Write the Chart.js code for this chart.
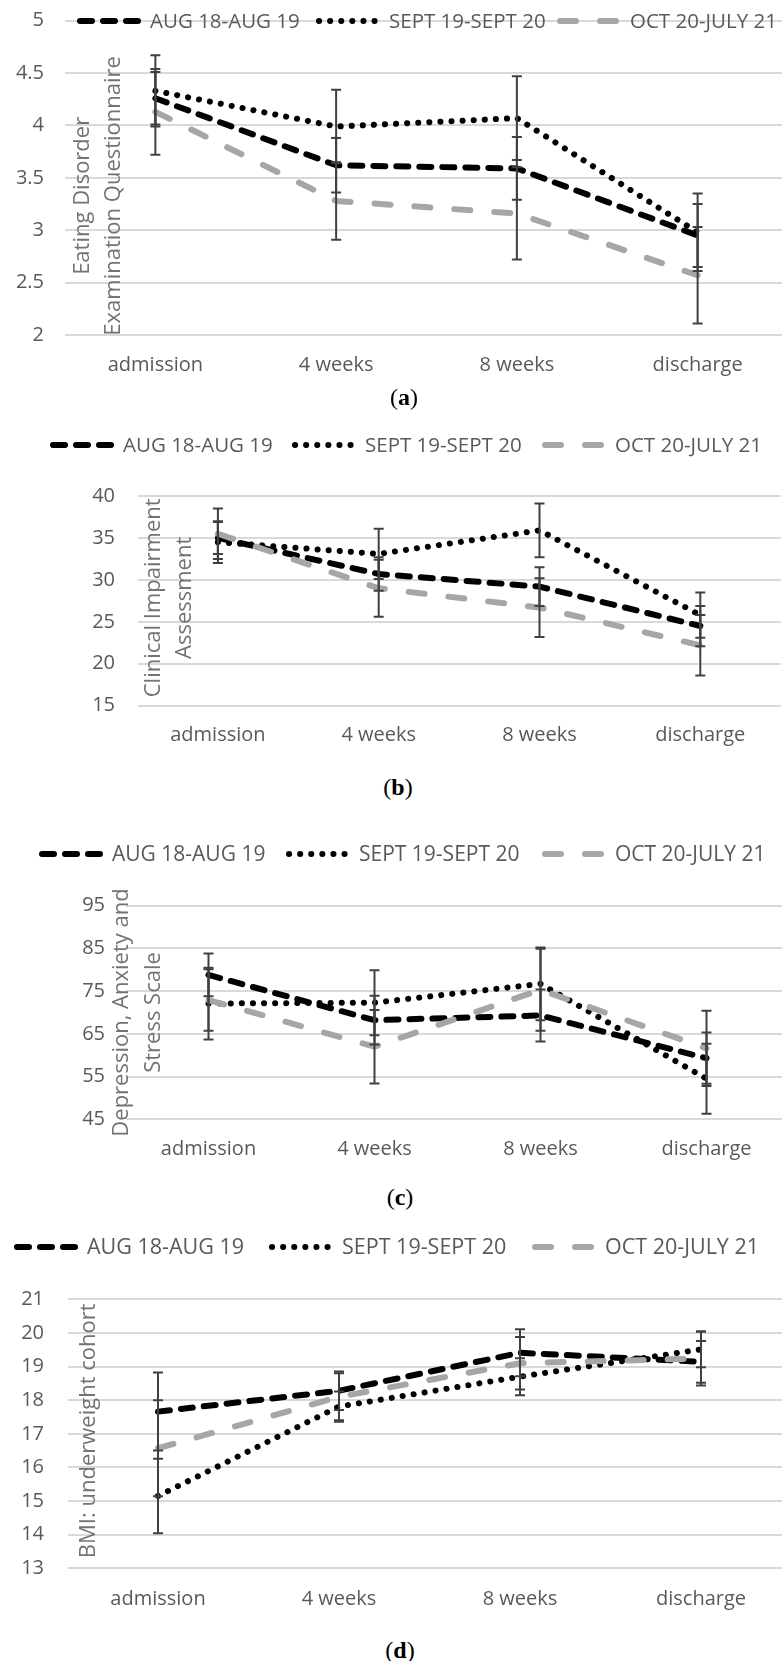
<!DOCTYPE html>
<html>
<head>
<meta charset="utf-8">
<script src="https://cdn.jsdelivr.net/npm/chart.js@4.4.1/dist/chart.umd.min.js"></script>
<style>
  body { margin: 0; background: #fff; }
  #page { position: relative; width: 782px; height: 1661px; overflow: hidden; }
  #page canvas { position: absolute; left: 0; }
  .cap { position: absolute; width: 100px; text-align: center; font: 24px "Liberation Serif", serif; line-height: 24px; color: #000; }
</style>
</head>
<body>
<div id="page">
  <canvas id="chartA" width="800" height="385" style="top:0px"></canvas>
  <div class="cap" style="left:354px;top:385px">(<b>a</b>)</div>
  <canvas id="chartB" width="800" height="340" style="top:420px"></canvas>
  <div class="cap" style="left:348px;top:775px">(<b>b</b>)</div>
  <canvas id="chartC" width="800" height="340" style="top:830px"></canvas>
  <div class="cap" style="left:350px;top:1185px">(<b>c</b>)</div>
  <canvas id="chartD" width="800" height="400" style="top:1225px"></canvas>
  <div class="cap" style="left:350px;top:1638px">(<b>d</b>)</div>
</div>
<script>
const categories = ['admission', '4 weeks', '8 weeks', 'discharge'];
const cohorts = ['AUG 18-AUG 19', 'SEPT 19-SEPT 20', 'OCT 20-JULY 21'];

// (a) Eating Disorder Examination Questionnaire
const edeTicks = [2, 2.5, 3, 3.5, 4, 4.5, 5];
const edeAug = [4.26, 3.62, 3.59, 2.95];
const edeSept = [4.33, 3.99, 4.07, 2.98];
const edeOct = [4.13, 3.28, 3.16, 2.57];
const edeAugErr = [0.25, 0.26, 0.30, 0.30];
const edeSeptErr = [0.34, 0.35, 0.40, 0.37];
const edeOctErr = [0.41, 0.37, 0.44, 0.46];

// (b) Clinical Impairment Assessment
const ciaTicks = [15, 20, 25, 30, 35, 40];
const ciaAug = [35.0, 30.7, 29.2, 24.5];
const ciaSept = [34.5, 33.1, 35.9, 25.8];
const ciaOct = [35.5, 29.0, 26.7, 22.2];
const ciaAugErr = [1.9, 2.0, 2.3, 2.4];
const ciaSeptErr = [2.5, 3.0, 3.2, 2.7];
const ciaOctErr = [3.0, 3.4, 3.5, 3.6];

// (c) Depression, Anxiety and Stress Scale
const dassTicks = [45, 55, 65, 75, 85, 95];
const dassAug = [78.8, 68.2, 69.3, 59.3];
const dassSept = [72.1, 72.3, 76.7, 54.5];
const dassOct = [72.9, 62.0, 75.3, 61.6];
const dassAugErr = [5.0, 5.7, 6.1, 6.0];
const dassSeptErr = [8.4, 7.6, 8.5, 8.2];
const dassOctErr = [7.2, 8.6, 9.6, 8.8];

// (d) BMI, underweight cohort
const bmiTicks = [13, 14, 15, 16, 17, 18, 19, 20, 21];
const bmiAug = [17.66, 18.28, 19.41, 19.14];
const bmiSept = [15.15, 17.81, 18.70, 19.51];
const bmiOct = [16.57, 18.10, 19.10, 19.24];
const bmiAugErr = [1.16, 0.57, 0.70, 0.62];
const bmiSeptErr = [1.11, 0.45, 0.55, 0.53];
const bmiOctErr = [1.43, 0.70, 0.78, 0.80];

const TEXT = '#595959';
const FONT = '"Open Sans", "DejaVu Sans", sans-serif';

// line look per cohort (Excel: long dash black, round dot black, dash grey)
const looks = [
    { color: '#000000', dash: [12, 11], order: 2 },
    { color: '#000000', dash: [0.1, 11], order: 1 },
    { color: '#a6a6a6', dash: [16, 24], order: 0 }
];

const errorBars = {
    id: 'errorBars',
    afterDatasetsDraw(chart) {
        const ctx = chart.ctx, y = chart.scales.y;
        ctx.save();
        ctx.strokeStyle = '#404040';
        ctx.lineWidth = 2;
        ctx.setLineDash([]);
        ctx.lineCap = 'butt';
        chart.data.datasets.forEach((ds, i) => {
            chart.getDatasetMeta(i).data.forEach((pt, j) => {
                const x = pt.x;
                const hi = y.getPixelForValue(ds.data[j] + ds.errors[j]);
                const lo = y.getPixelForValue(ds.data[j] - ds.errors[j]);
                ctx.beginPath();
                ctx.moveTo(x, hi); ctx.lineTo(x, lo);
                ctx.moveTo(x - 5, hi); ctx.lineTo(x + 5, hi);
                ctx.moveTo(x - 5, lo); ctx.lineTo(x + 5, lo);
                ctx.stroke();
            });
        });
        ctx.restore();
    }
};

const sideTitle = {
    id: 'sideTitle',
    beforeDatasetsDraw(chart, args, o) {
        const a = chart.chartArea, ctx = chart.ctx;
        ctx.save();
        ctx.fillStyle = '#737373';
        ctx.font = '22px ' + FONT;
        ctx.textAlign = 'center';
        ctx.textBaseline = 'middle';
        o.lines.forEach((t, k) => {
            ctx.save();
            ctx.translate(a.left + o.dx[k], (a.top + a.bottom) / 2 + o.dy);
            ctx.rotate(-Math.PI / 2);
            ctx.fillText(t, 0, 0);
            ctx.restore();
        });
        ctx.restore();
    }
};

// legend: sample line then label, each item starting at a given x
const lineLegend = {
    id: 'lineLegend',
    afterDraw(chart, args, o) {
        const ctx = chart.ctx;
        ctx.save();
        ctx.font = o.size + 'px ' + FONT;
        ctx.textBaseline = 'middle';
        chart.data.datasets.forEach((ds, i) => {
            const x = o.xs[i];
            ctx.strokeStyle = ds.borderColor;
            ctx.lineWidth = ds.borderWidth;
            ctx.lineCap = 'round';
            ctx.setLineDash(ds.borderDash);
            ctx.beginPath();
            ctx.moveTo(x + 3, o.y);
            ctx.lineTo(x + 61, o.y);
            ctx.stroke();
            ctx.fillStyle = TEXT;
            ctx.fillText(ds.label, x + 73, o.y + 1);
        });
        ctx.restore();
    }
};

function makeChart(id, ticks, series, errs, p) {
    const canvas = document.getElementById(id);
    const datasets = series.map((vals, i) => ({
        label: cohorts[i],
        data: vals,
        errors: errs[i],
        borderColor: looks[i].color,
        borderDash: looks[i].dash,
        borderWidth: 6,
        borderCapStyle: 'round',
        borderJoinStyle: 'round',
        pointRadius: 0,
        tension: 0,
        fill: false,
        order: looks[i].order
    }));
    return new Chart(canvas, {
        type: 'line',
        data: { labels: categories, datasets: datasets },
        options: {
            responsive: false,
            animation: false,
            events: [],
            layout: { padding: { top: p.top, right: canvas.width - p.right, left: 0, bottom: 0 } },
            plugins: {
                legend: { display: false },
                tooltip: { enabled: false },
                sideTitle: { lines: p.title, dx: p.dx, dy: p.dy },
                lineLegend: { xs: p.legendXs, y: p.legendY, size: p.legendSize }
            },
            scales: {
                x: {
                    offset: true,
                    grid: { display: false, drawTicks: false },
                    border: { display: false },
                    ticks: { color: TEXT, font: { family: FONT, size: 20 }, padding: p.xPad, autoSkip: false, maxRotation: 0 },
                    afterFit: s => {
                        s.height = canvas.height - p.bottom;
                        s.paddingLeft = 0;
                        s.paddingRight = 0;
                    }
                },
                y: {
                    min: ticks[0],
                    max: ticks[ticks.length - 1],
                    ticks: {
                        stepSize: ticks[1] - ticks[0],
                        color: TEXT,
                        font: { family: FONT, size: 20 },
                        padding: p.yPad,
                        callback: v => ticks.includes(v) ? String(v) : ''
                    },
                    grid: { color: '#d9d9d9', lineWidth: 2, drawTicks: false },
                    border: { display: false },
                    afterFit: s => {
                        s.width = p.left;
                        s.paddingTop = 0;
                        s.paddingBottom = 0;
                    }
                }
            }
        },
        plugins: [sideTitle, errorBars, lineLegend]
    });
}

makeChart('chartA', edeTicks, [edeAug, edeSept, edeOct], [edeAugErr, edeSeptErr, edeOctErr], {
    left: 65, right: 788, top: 20.7, bottom: 335, xPad: 18, yPad: 21,
    title: ['Eating Disorder', 'Examination Questionnaire'], dx: [18, 49], dy: 18,
    legendXs: [77, 316, 557], legendY: 21, legendSize: 20.5
});
makeChart('chartB', ciaTicks, [ciaAug, ciaSept, ciaOct], [ciaAugErr, ciaSeptErr, ciaOctErr], {
    left: 137.5, right: 780.7, top: 76, bottom: 285.7, xPad: 18, yPad: 22.5,
    title: ['Clinical Impairment', 'Assessment'], dx: [16, 47], dy: -3,
    legendXs: [50, 292, 542], legendY: 25, legendSize: 20.5
});
makeChart('chartC', dassTicks, [dassAug, dassSept, dassOct], [dassAugErr, dassSeptErr, dassOctErr], {
    left: 125.5, right: 789.5, top: 75.7, bottom: 289.3, xPad: 18, yPad: 20.5,
    title: ['Depression, Anxiety and', 'Stress Scale'], dx: [-3.5, 28], dy: 0,
    legendXs: [39, 286, 542], legendY: 24, legendSize: 21
});
makeChart('chartD', bmiTicks, [bmiAug, bmiSept, bmiOct], [bmiAugErr, bmiSeptErr, bmiOctErr], {
    left: 67.5, right: 791.5, top: 74.3, bottom: 343.3, xPad: 19, yPad: 23.5,
    title: ['BMI: underweight cohort'], dx: [21.5], dy: -3,
    legendXs: [14, 269, 532], legendY: 22, legendSize: 21.5
});
</script>
</body>
</html>
